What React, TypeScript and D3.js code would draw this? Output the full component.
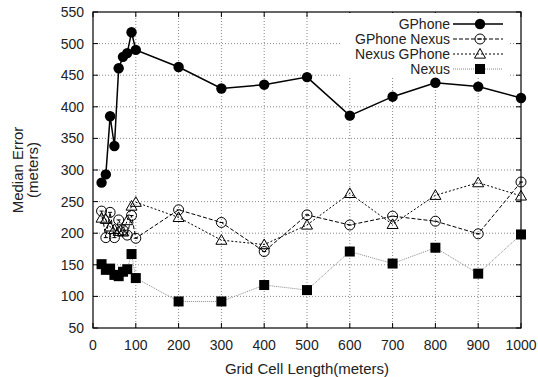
import React from "react";
import * as d3 from "d3";

const xValues = [20, 30, 40, 50, 60, 70, 80, 90, 100, 200, 300, 400, 500, 600, 700, 800, 900, 1000];
const gphone = [280, 293, 385, 338, 461, 479, 485, 518, 490, 463, 429, 435, 447, 386, 416, 438, 432, 414];
const gphoneNexus = [235, 193, 233, 193, 221, 205, 197, 228, 192, 237, 217, 171, 229, 213, 227, 219, 199, 281];
const nexusGphone = [224, 222, 210, 206, 203, 202, 220, 243, 249, 225, 189, 182, 213, 263, 214, 260, 280, 259];
const nexus = [151, 142, 144, 134, 132, 139, 143, 167, 129, 92, 92, 118, 110, 171, 152, 177, 136, 198];

const xTicks = [0, 100, 200, 300, 400, 500, 600, 700, 800, 900, 1000];
const yTicks = [50, 100, 150, 200, 250, 300, 350, 400, 450, 500, 550];
const seriesNames = ["GPhone", "GPhone Nexus", "Nexus GPhone", "Nexus"];

const W = 538, H = 377;
const L = 93, R = 521, T = 12, B = 328;
const FONT = "'Liberation Sans', Arial, Helvetica, sans-serif";

type Style = { stroke: string; width: number; dash?: string; marker: "fcircle" | "ocircle" | "otri" | "fsquare" };
const styles: Style[] = [
  { stroke: "#000", width: 1.5, marker: "fcircle" },
  { stroke: "#000", width: 1, dash: "4,2", marker: "ocircle" },
  { stroke: "#000", width: 1, dash: "2,2", marker: "otri" },
  { stroke: "#888", width: 1, dash: "1,1", marker: "fsquare" },
];

function Marker({ kind, x, y }: { kind: Style["marker"]; x: number; y: number }) {
  if (kind === "fcircle") return <circle cx={x} cy={y} r={5.2} fill="#000" />;
  if (kind === "ocircle")
    return (
      <g>
        <circle cx={x} cy={y} r={5} fill="none" stroke="#000" strokeWidth={1} />
        <line x1={x - 2} x2={x + 2} y1={y} y2={y} stroke="#000" strokeWidth={1} />
      </g>
    );
  if (kind === "otri") {
    const s = 5.5;
    const p = [
      [x, y - s],
      [x - s, y + s * 0.75],
      [x + s, y + s * 0.75],
    ];
    return <polygon points={p.map((q) => q.join(",")).join(" ")} fill="none" stroke="#000" strokeWidth={1} />;
  }
  return <rect x={x - 5} y={y - 5} width={10} height={10} fill="#000" />;
}

export default function App() {
  const x = d3.scaleLinear().domain([0, 1000]).range([L, R]);
  const y = d3.scaleLinear().domain([50, 550]).range([B, T]);
  const data = [gphone, gphoneNexus, nexusGphone, nexus];
  const line = d3
    .line<number>()
    .x((_, i) => x(xValues[i]))
    .y((d) => y(d));

  const legX = 450;
  const legRows = [24, 39, 54, 69];

  return (
    <svg width={W} height={H} style={{ position: "absolute", left: 0, top: 0, background: "#fff" }} fontFamily={FONT}>
      <rect x={0} y={0} width={W} height={H} fill="#fff" />
      {/* grid */}
      {xTicks.slice(1, -1).map((t) => (
        <line key={"gx" + t} x1={x(t)} x2={x(t)} y1={T} y2={B} stroke="#888" strokeWidth={1} strokeDasharray="1,2" />
      ))}
      {yTicks.slice(1, -1).map((t) => (
        <line key={"gy" + t} x1={L} x2={R} y1={y(t)} y2={y(t)} stroke="#888" strokeWidth={1} strokeDasharray="1,2" />
      ))}
      {/* ticks */}
      {xTicks.map((t) => (
        <g key={"tx" + t}>
          <line x1={x(t)} x2={x(t)} y1={B} y2={B - 5} stroke="#000" />
          <line x1={x(t)} x2={x(t)} y1={T} y2={T + 5} stroke="#000" />
          <text x={x(t)} y={350} fontSize={14} textAnchor="middle" fill="#222">
            {t}
          </text>
        </g>
      ))}
      {yTicks.map((t) => (
        <g key={"ty" + t}>
          <line x1={L} x2={L + 5} y1={y(t)} y2={y(t)} stroke="#000" />
          <line x1={R} x2={R - 5} y1={y(t)} y2={y(t)} stroke="#000" />
          <text x={84} y={y(t) + 5} fontSize={14} textAnchor="end" fill="#222">
            {t}
          </text>
        </g>
      ))}
      {/* legend background */}
      <rect x={342} y={T + 1} width={168} height={65} fill="#fff" />
      {/* series */}
      {data.map((d, si) => (
        <g key={"s" + si}>
          <path
            d={line(d) || ""}
            fill="none"
            stroke={styles[si].stroke}
            strokeWidth={styles[si].width}
            strokeDasharray={styles[si].dash}
          />
          {d.map((v, i) => (
            <Marker key={i} kind={styles[si].marker} x={x(xValues[i])} y={y(v)} />
          ))}
        </g>
      ))}
      {/* legend */}
      {seriesNames.map((name, i) => (
        <g key={"l" + i}>
          <text x={legX} y={legRows[i] + 5} fontSize={14} textAnchor="end" fill="#222">
            {name}
          </text>
          <line
            x1={453}
            x2={503}
            y1={legRows[i]}
            y2={legRows[i]}
            stroke={styles[i].stroke}
            strokeWidth={styles[i].width}
            strokeDasharray={styles[i].dash}
          />
          <Marker kind={styles[i].marker} x={480} y={legRows[i]} />
        </g>
      ))}
      {/* frame */}
      <rect x={L} y={T} width={R - L} height={B - T} fill="none" stroke="#000" strokeWidth={1.2} />
      {/* axis titles */}
      <text x={(L + R) / 2} y={374} fontSize={15} textAnchor="middle" fill="#222">
        Grid Cell Length(meters)
      </text>
      <g transform={`translate(23,${(T + B) / 2}) rotate(-90)`}>
        <text x={0} y={0} fontSize={15} textAnchor="middle" fill="#222">
          Median Error
        </text>
        <text x={0} y={15} fontSize={15} textAnchor="middle" fill="#222">
          (meters)
        </text>
      </g>
    </svg>
  );
}
